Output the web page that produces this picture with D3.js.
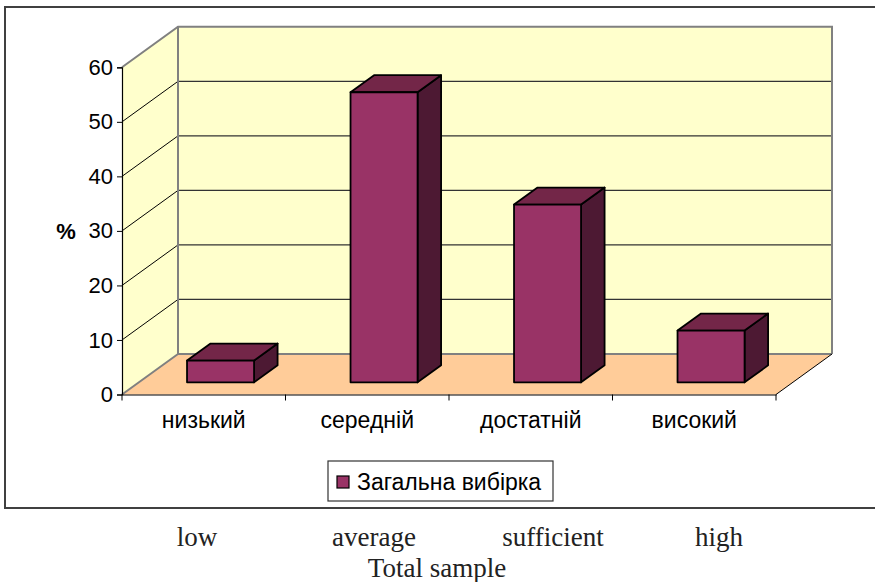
<!DOCTYPE html>
<html>
<head>
<meta charset="utf-8">
<script src="https://cdn.jsdelivr.net/npm/d3@7"></script>
<style>
  body { margin: 0; background: #fff; }
</style>
</head>
<body>
<div id="chart"></div>
<script>
(function () {

  var categories = ['низький', 'середній', 'достатній', 'високий']
  var values = [4, 53.2, 32.6, 9.5]
  var yTicks = [0, 10, 20, 30, 40, 50, 60]
  var englishLabels = ['low', 'average', 'sufficient', 'high']
  var seriesName = 'Загальна вибірка'

  var width = 875, height = 582

  // plot box (front plane) and depth of the 3d walls
  var left = 122, right = 776, bottom = 394.5, top = 67.3
  var depthX = 56, depthY = -40.5

  var sans = 'Liberation Sans, Arial, sans-serif'
  var serif = 'Liberation Serif, Times New Roman, serif'

  var svg = d3.select('#chart').append('svg')
    .attr('width', width)
    .attr('height', height)

  var xScale = d3.scaleBand()
    .domain(categories)
    .range([left, right])

  var yScale = d3.scaleLinear()
    .domain([0, 60])
    .range([bottom, top])

  // outer frame (right edge runs off the page)
  svg.append('path')
    .attr('d', 'M' + (width + 5) + ',7 L5,7 L5,508 L' + (width + 5) + ',508')
    .attr('fill', 'none')
    .attr('stroke', '#404040')
    .attr('stroke-width', 2)

  // side wall
  svg.append('polygon')
    .attr('points', [
      [left, yScale(60)], [left + depthX, yScale(60) + depthY],
      [left + depthX, bottom + depthY], [left, bottom]
    ].join(' '))
    .attr('fill', '#FFFFCC')

  // back wall
  svg.append('rect')
    .attr('x', left + depthX)
    .attr('y', yScale(60) + depthY)
    .attr('width', right - left)
    .attr('height', bottom - yScale(60))
    .attr('fill', '#FFFFCC')

  // floor
  svg.append('polygon')
    .attr('points', [
      [left, bottom], [left + depthX, bottom + depthY],
      [right + depthX, bottom + depthY], [right, bottom]
    ].join(' '))
    .attr('fill', '#FFCC99')

  // gridlines on back wall and side wall
  yTicks.slice(1, -1).forEach(function (t) {
    svg.append('line')
      .attr('x1', left + depthX).attr('x2', right + depthX)
      .attr('y1', yScale(t) + depthY).attr('y2', yScale(t) + depthY)
      .attr('stroke', '#333').attr('stroke-width', 1.2)
    svg.append('line')
      .attr('x1', left).attr('x2', left + depthX)
      .attr('y1', yScale(t)).attr('y2', yScale(t) + depthY)
      .attr('stroke', '#000').attr('stroke-width', 1)
  })

  // wall edges
  svg.append('path')
    .attr('d', 'M' + left + ',' + yScale(60) +
      ' L' + (left + depthX) + ',' + (yScale(60) + depthY) +
      ' L' + (right + depthX) + ',' + (yScale(60) + depthY) +
      ' L' + (right + depthX) + ',' + (bottom + depthY))
    .attr('fill', 'none')
    .attr('stroke', '#808080')
    .attr('stroke-width', 2)

  svg.append('path')
    .attr('d', 'M' + (left + depthX) + ',' + (yScale(60) + depthY) +
      ' L' + (left + depthX) + ',' + (bottom + depthY) +
      ' L' + (right + depthX) + ',' + (bottom + depthY) +
      ' M' + left + ',' + bottom + ' L' + (left + depthX) + ',' + (bottom + depthY))
    .attr('fill', 'none')
    .attr('stroke', '#808080')
    .attr('stroke-width', 2)

  svg.append('line')
    .attr('x1', right).attr('y1', bottom)
    .attr('x2', right + depthX).attr('y2', bottom + depthY)
    .attr('stroke', '#000').attr('stroke-width', 1)

  // bars
  var f0 = 0.30, f1 = 0.72
  var barW = xScale.bandwidth() * 0.41

  function face(pts) {
    return pts.map(function (p) { return p.join(',') }).join(' ')
  }

  svg.selectAll('.bar')
    .data(values)
    .enter().append('g')
    .attr('class', 'bar')
    .each(function (d, i) {
      var g = d3.select(this)
      var cx = xScale(categories[i]) + xScale.bandwidth() / 2
      var x0 = cx + f0 * depthX - barW / 2
      var x1 = x0 + barW
      var yb = bottom + f0 * depthY
      var yt = yScale(d) + f0 * depthY
      var ox = (f1 - f0) * depthX, oy = (f1 - f0) * depthY

      g.append('polygon')
        .attr('points', face([[x1, yt], [x1 + ox, yt + oy], [x1 + ox, yb + oy], [x1, yb]]))
        .attr('fill', '#4D1933')
      g.append('polygon')
        .attr('points', face([[x0, yt], [x0 + ox, yt + oy], [x1 + ox, yt + oy], [x1, yt]]))
        .attr('fill', '#732648')
      g.append('rect')
        .attr('x', x0).attr('y', yt)
        .attr('width', barW).attr('height', yb - yt)
        .attr('fill', '#993366')
      g.selectAll('polygon, rect')
        .attr('stroke', '#000')
        .attr('stroke-width', 1.8)
        .attr('stroke-linejoin', 'round')
    })

  // y axis
  var yAxis = d3.axisLeft(yScale)
    .tickValues(yTicks)
    .tickSize(5)
    .tickPadding(4)
  var yg = svg.append('g')
    .attr('transform', 'translate(' + left + ',0)')
    .call(yAxis)
  yg.select('.domain').attr('stroke', '#000').attr('stroke-width', 1.2)
  yg.selectAll('.tick line').attr('stroke', '#000')
  yg.selectAll('.tick text')
    .style('font-family', sans)
    .style('font-size', '22px')
    .attr('fill', '#000')

  svg.append('text')
    .attr('x', 66).attr('y', yScale(30) + 8)
    .attr('text-anchor', 'middle')
    .style('font-family', sans)
    .style('font-size', '22px')
    .style('font-weight', 'bold')
    .text('%')

  // x axis
  var xAxis = d3.axisBottom(xScale)
    .tickSize(0)
    .tickPadding(17)
  var xg = svg.append('g')
    .attr('transform', 'translate(0,' + bottom + ')')
    .call(xAxis)
  xg.select('.domain').attr('stroke', '#000').attr('stroke-width', 1.2)
  xg.selectAll('.tick text')
    .style('font-family', sans)
    .style('font-size', '23px')
    .attr('fill', '#000')

  var boundaries = categories.map(function (c) { return xScale(c) }).concat([right])
  svg.selectAll('.xtick')
    .data(boundaries)
    .enter().append('line')
    .attr('x1', function (d) { return d }).attr('x2', function (d) { return d })
    .attr('y1', bottom).attr('y2', bottom + 6)
    .attr('stroke', '#000')

  // legend
  var legend = svg.append('g').attr('transform', 'translate(328,461)')
  legend.append('rect')
    .attr('width', 225).attr('height', 40)
    .attr('fill', '#fff').attr('stroke', '#333').attr('stroke-width', 1.2)
  legend.append('rect')
    .attr('x', 9).attr('y', 15).attr('width', 12).attr('height', 12)
    .attr('fill', '#993366').attr('stroke', '#000').attr('stroke-width', 1.2)
  legend.append('text')
    .attr('x', 29).attr('y', 29)
    .style('font-family', sans)
    .style('font-size', '23px')
    .text(seriesName)

  // english captions under the chart
  var englishX = [197, 374, 553, 719]
  svg.selectAll('.en')
    .data(englishLabels)
    .enter().append('text')
    .attr('x', function (d, i) { return englishX[i] })
    .attr('y', 546)
    .attr('text-anchor', 'middle')
    .style('font-family', serif)
    .style('font-size', '27px')
    .attr('fill', '#222')
    .text(function (d) { return d })

  svg.append('text')
    .attr('x', 437).attr('y', 577)
    .attr('text-anchor', 'middle')
    .style('font-family', serif)
    .style('font-size', '27px')
    .attr('fill', '#222')
    .text('Total sample')

})()
</script>
</body>
</html>
